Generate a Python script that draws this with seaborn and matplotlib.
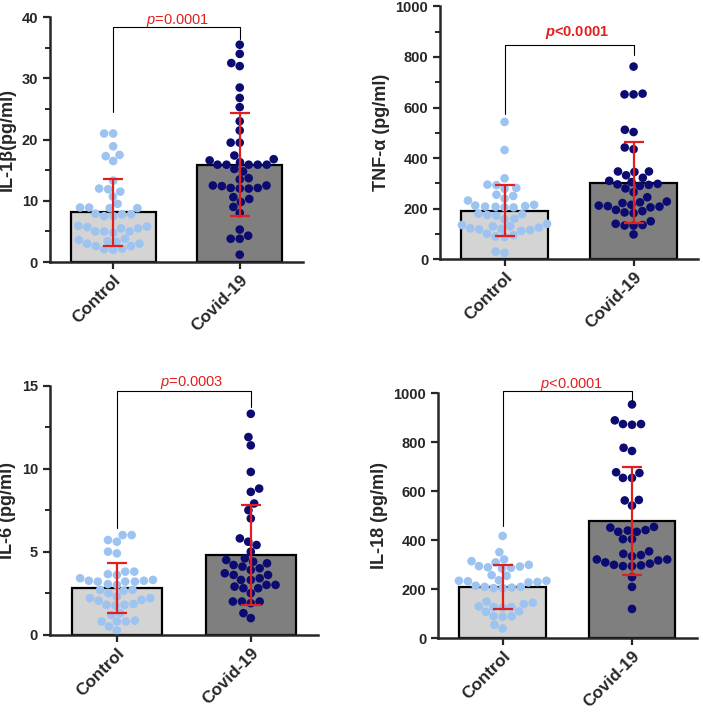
import numpy as np
import pandas as pd
import matplotlib
matplotlib.use('Agg')
import matplotlib.pyplot as plt
from matplotlib.ticker import MultipleLocator
import seaborn as sns

sns.set_style('ticks')
plt.rcParams['font.family'] = ['Liberation Sans', 'DejaVu Sans']
plt.rcParams['mathtext.fontset'] = 'custom'
plt.rcParams['mathtext.it'] = 'Liberation Sans:italic'
plt.rcParams['mathtext.bfit'] = 'Liberation Sans:italic:bold'

# ---------------- data ----------------
groups = ['Control', 'Covid-19']

il1b_control = [21, 21, 18.9, 17.5, 17.3, 16.5, 13.3, 12, 11.9, 11.5, 10.7, 9.5,
                8.9, 8.9, 8.8, 8.8, 7.9, 7.8, 7.5, 7.5, 7.8, 5.9, 5.5, 5.0, 5.0,
                4.8, 5.0, 5.5, 5.7, 5.8, 3.8, 3.4, 3.0, 2.6, 2.2, 2.0, 2.1, 2.6,
                3.0, 3.3, 3.6]
il1b_covid = [35.5, 34.0, 32.5, 32.0, 28.5, 26.8, 25.3, 23.0, 21.5, 19.5, 19.5,
              17.4, 16.8, 16.6, 16.3, 15.9, 15.9, 15.9, 15.9, 15.9, 15.2, 14.8,
              13.7, 13.5, 12.5, 12.5, 12.4, 12.1, 12.0, 12.0, 12.1, 10.6, 10.3,
              9.8, 9.0, 8.0, 5.3, 4.3, 3.8, 3.8, 1.2]
il1b_mean = [8.1, 15.9]
il1b_sd = [5.45, 8.45]

tnf_control = [543, 432, 320, 295, 293, 282, 278, 255, 250, 240, 232, 215, 212,
               210, 208, 207, 205, 205, 180, 178, 175, 172, 160, 158, 140, 135,
               130, 130, 125, 122, 120, 118, 115, 112, 100, 95, 90, 88, 30, 25]
tnf_covid = [762, 655, 652, 652, 512, 503, 442, 435, 347, 347, 345, 332, 322,
             310, 305, 298, 296, 294, 290, 280, 265, 245, 228, 225, 222, 215,
             212, 210, 208, 205, 195, 190, 185, 182, 150, 140, 135, 133, 133, 98]
tnf_mean = [192, 303]
tnf_sd = [100, 160]

il6_control = [6.0, 6.0, 5.7, 5.6, 5.0, 4.9, 3.8, 3.8, 3.65, 3.6, 3.3, 3.25,
               3.2, 3.2, 3.2, 3.25, 3.4, 3.0, 3.05, 2.7, 2.65, 2.7, 2.3, 2.2,
               2.1, 2.05, 2.2, 2.5, 1.8, 1.75, 1.8, 1.85, 1.3, 1.2, 0.8, 0.8,
               0.85, 0.8, 0.5, 0.25]
il6_covid = [13.3, 11.9, 11.4, 9.8, 8.8, 8.6, 7.9, 7.5, 7.0, 5.8, 5.6, 5.4, 5.0,
             4.6, 4.5, 4.4, 4.3, 4.2, 4.1, 4.0, 3.9, 3.7, 3.6, 3.6, 3.4, 3.3,
             3.3, 3.0, 3.0, 2.9, 2.8, 2.8, 2.5, 2.0, 2.0, 2.0, 1.9, 1.3, 1.0]
il6_mean = [2.8, 4.8]
il6_sd = [1.52, 3.0]

il18_control = [418, 352, 322, 315, 310, 300, 295, 293, 290, 288, 285, 258, 255,
                237, 235, 235, 233, 230, 228, 215, 210, 207, 205, 205, 210, 150,
                145, 140, 130, 128, 128, 125, 110, 108, 90, 90, 88, 55, 40]
il18_covid = [955, 890, 875, 872, 875, 778, 765, 678, 675, 655, 655, 565, 563,
              542, 455, 452, 442, 440, 435, 435, 405, 405, 355, 345, 340, 335,
              322, 322, 318, 310, 305, 300, 298, 295, 295, 250, 210, 120]
il18_mean = [211, 478]
il18_sd = [90, 220]

panels = [
    # ylabel, control, covid, mean, sd, ymax, major, minor, p text, bold, bracket
    ('IL-1β(pg/ml)', il1b_control, il1b_covid, il1b_mean, il1b_sd, 40, 10, 5,
     r'$\mathit{p}$=0.0001', False, (24.5, 36.5, 38.4, 38.0, 0.51)),
    ('TNF-α (pg/ml)', tnf_control, tnf_covid, tnf_mean, tnf_sd, 1000, 200, 100,
     r'$\mathbfit{p}$<0.0001', True, (575, 806, 846, 862, 0.56)),
    ('IL-6 (pg/ml)', il6_control, il6_covid, il6_mean, il6_sd, 15, 5, 2.5,
     r'$\mathit{p}$=0.0003', False, (6.4, 13.7, 14.7, 14.65, 0.56)),
    ('IL-18 (pg/ml)', il18_control, il18_covid, il18_mean, il18_sd, 1000, 200, None,
     r'$\mathit{p}$<0.0001', False, (460, 970, 1008, 1003, 0.53)),
]

axes_pos = [
    [0.071, 0.633, 0.360, 0.343],
    [0.626, 0.637, 0.367, 0.354],
    [0.071, 0.111, 0.381, 0.349],
    [0.623, 0.106, 0.368, 0.343],
]

bar_colors = ['#d4d4d4', '#7f7f7f']
dot_colors = ['#9dc3f1', '#0b0b72']
red = '#e0201e'

fig = plt.figure(figsize=(7.03, 7.14), dpi=100)

for pos, (ylab, ctrl, cov, mean, sd, ymax, major, minor, ptxt, pbold, br) in zip(axes_pos, panels):
    ax = fig.add_axes(pos)

    summary = pd.DataFrame({'group': groups, 'mean': mean, 'sd': sd})
    points = pd.DataFrame({
        'group': ['Control'] * len(ctrl) + ['Covid-19'] * len(cov),
        'value': list(ctrl) + list(cov),
    })

    sns.barplot(data=summary, x='group', y='mean', hue='group', order=groups,
                palette=bar_colors, width=0.67, edgecolor='black', linewidth=1.6,
                legend=False, ax=ax, zorder=1)
    sns.swarmplot(data=points, x='group', y='value', hue='group', order=groups,
                  palette=dot_colors, size=6.2, linewidth=0, legend=False, ax=ax,
                  zorder=2, warn_thresh=1)
    ax.errorbar(x=[0, 1], y=mean, yerr=sd, fmt='none', ecolor=red,
                elinewidth=1.6, capsize=7.5, capthick=1.6, zorder=4)

    # significance bracket
    left_low, right_low, top, ty, tx = br
    ax.plot([0, 0, 1, 1], [left_low, top, top, right_low], color='black',
            lw=0.8, clip_on=False, zorder=3)
    ax.text(tx, ty, ptxt, color=red, ha='center', va='bottom', fontsize=10.5,
            fontweight='bold' if pbold else 'normal')

    ax.set_xlim(-0.5, 1.5)
    ax.set_ylim(0, ymax)
    ax.yaxis.set_major_locator(MultipleLocator(major))
    if minor:
        ax.yaxis.set_minor_locator(MultipleLocator(minor))
    ax.set_xlabel('')
    ax.set_ylabel(ylab, fontsize=13, fontweight='bold')
    sns.despine(ax=ax)
    for s in ['left', 'bottom']:
        ax.spines[s].set_linewidth(1.8)
    ax.tick_params(axis='both', which='major', length=5, width=1.6,
                   labelsize=10.5, direction='out')
    ax.tick_params(axis='x', which='major', pad=2.5)
    ax.tick_params(axis='y', which='minor', length=3.5, width=1.4)
    for lbl in ax.get_yticklabels():
        lbl.set_fontweight('bold')
    ax.set_xticks([0, 1])
    ax.set_xticklabels(groups, rotation=45, ha='right', rotation_mode='anchor',
                       fontsize=12.3, fontweight='bold')

fig.savefig('out.png', dpi=100)
